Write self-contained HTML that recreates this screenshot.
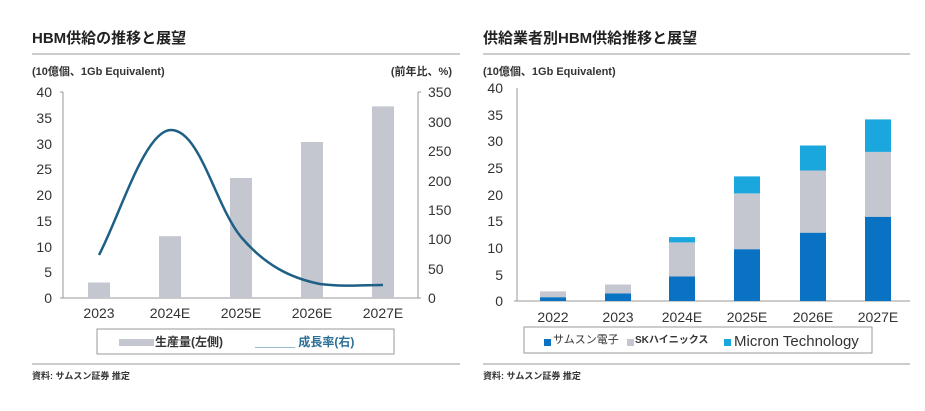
<!DOCTYPE html>
<html><head><meta charset="utf-8"><style>
body{margin:0;background:#fff;}
svg{display:block;font-family:"Liberation Sans","Noto Sans CJK JP",sans-serif;}
</style></head><body>
<svg width="925" height="411" viewBox="0 0 925 411">
<rect width="925" height="411" fill="#fff"/>
<!-- LEFT -->
<text x="32" y="43" font-size="15" font-weight="bold" fill="#222">HBM供給の推移と展望</text>
<line x1="32" y1="54" x2="460" y2="54" stroke="#999" stroke-width="1"/>
<text x="32" y="75" font-size="11" font-weight="bold" fill="#333">(10億個、1Gb Equivalent)</text>
<text x="452" y="75" font-size="11" font-weight="bold" fill="#333" text-anchor="end">(前年比、%)</text>
<g font-size="14" fill="#333" text-anchor="end">
<text x="52" y="97">40</text><text x="52" y="123">35</text><text x="52" y="149">30</text><text x="52" y="174">25</text><text x="52" y="200">20</text><text x="52" y="226">15</text><text x="52" y="252">10</text><text x="52" y="277">5</text><text x="52" y="303">0</text>
</g>
<g font-size="14" fill="#333">
<text x="428" y="97">350</text><text x="428" y="127">300</text><text x="428" y="156">250</text><text x="428" y="186">200</text><text x="428" y="215">150</text><text x="428" y="244">100</text><text x="428" y="274">50</text><text x="428" y="303">0</text>
</g>
<g stroke="#999" stroke-width="1">
<line x1="63" y1="92" x2="63" y2="298"/><line x1="418" y1="92" x2="418" y2="298"/>
<line x1="60" y1="298" x2="421" y2="298"/>
<line x1="60" y1="92" x2="63" y2="92"/><line x1="418" y1="92" x2="421" y2="92"/>
</g>
<g fill="#c4c6d0">
<rect x="88" y="282.5" width="22" height="15.5"/>
<rect x="159" y="236.2" width="22" height="61.8"/>
<rect x="230" y="178" width="22" height="120"/>
<rect x="301" y="142" width="22" height="156"/>
<rect x="372" y="106.4" width="22" height="191.6"/>
</g>
<path d="M99,255 C120,215 145,130 171,130 C200,130 215,205 241,237 C265,265 290,278 320,284 C345,287 365,285 383,285" fill="none" stroke="#1e5f86" stroke-width="2.5"/>
<g font-size="14" fill="#333" text-anchor="middle">
<text x="99" y="318">2023</text><text x="170" y="318">2024E</text><text x="241" y="318">2025E</text><text x="312" y="318">2026E</text><text x="383" y="318">2027E</text>
</g>
<rect x="97" y="329" width="297" height="25" fill="#fff" stroke="#999"/>
<rect x="119" y="339" width="35" height="7" fill="#c4c6d0"/>
<text x="155" y="346" font-size="12" font-weight="bold" fill="#333">生産量(左側)</text>
<text x="255" y="346" font-size="12" font-weight="bold" fill="#2a6f96">______ 成長率(右)</text>
<line x1="32" y1="364" x2="460" y2="364" stroke="#999"/>
<text x="32" y="379" font-size="9" font-weight="bold" fill="#333">資料: サムスン証券 推定</text>
<!-- RIGHT -->
<text x="483" y="43" font-size="15" font-weight="bold" fill="#222">供給業者別HBM供給推移と展望</text>
<line x1="483" y1="54" x2="910" y2="54" stroke="#999"/>
<text x="483" y="75" font-size="11" font-weight="bold" fill="#333">(10億個、1Gb Equivalent)</text>
<g font-size="14" fill="#333" text-anchor="end">
<text x="503" y="93">40</text><text x="503" y="120">35</text><text x="503" y="146">30</text><text x="503" y="173">25</text><text x="503" y="200">20</text><text x="503" y="226">15</text><text x="503" y="253">10</text><text x="503" y="280">5</text><text x="503" y="306">0</text>
</g>
<g stroke="#999">
<line x1="517" y1="88" x2="517" y2="301"/><line x1="514" y1="301" x2="910" y2="301"/>
</g>
<g fill="#c4c6d0">
<rect x="540" y="291.4" width="26" height="5.9"/><rect x="605" y="284.5" width="26" height="9"/>
<rect x="669" y="242.4" width="26" height="34.1"/><rect x="734" y="193.4" width="26" height="55.9"/>
<rect x="800" y="170.5" width="26" height="62.3"/><rect x="865" y="151.9" width="26" height="65"/>
</g>
<g fill="#0a72c2">
<rect x="540" y="297.3" width="26" height="3.7"/><rect x="605" y="293.5" width="26" height="7.5"/>
<rect x="669" y="276.5" width="26" height="24.5"/><rect x="734" y="249.3" width="26" height="51.7"/>
<rect x="800" y="232.8" width="26" height="68.2"/><rect x="865" y="216.9" width="26" height="84.1"/>
</g>
<g fill="#1aa7dd">
<rect x="669" y="237.1" width="26" height="5.3"/><rect x="734" y="176.4" width="26" height="17"/>
<rect x="800" y="145.5" width="26" height="25"/><rect x="865" y="119.4" width="26" height="32.5"/>
</g>
<g font-size="14" fill="#333" text-anchor="middle">
<text x="553" y="322">2022</text><text x="618" y="322">2023</text><text x="682" y="322">2024E</text><text x="747" y="322">2025E</text><text x="813" y="322">2026E</text><text x="878" y="322">2027E</text>
</g>
<rect x="524" y="327" width="348" height="26" fill="#fff" stroke="#999"/>
<rect x="544" y="339" width="7" height="7" fill="#0a72c2"/>
<text x="553" y="343" font-size="11" fill="#333">サムスン電子</text>
<rect x="627" y="339" width="7" height="7" fill="#c4c6d0"/>
<text x="635" y="343" font-size="10" font-weight="bold" fill="#333">SKハイニックス</text>
<rect x="724" y="339" width="7" height="7" fill="#1aa7dd"/>
<text x="734" y="346" font-size="15" fill="#333">Micron Technology</text>
<line x1="483" y1="364" x2="910" y2="364" stroke="#999"/>
<text x="483" y="379" font-size="9" font-weight="bold" fill="#333">資料: サムスン証券 推定</text>
</svg>
</body></html>
